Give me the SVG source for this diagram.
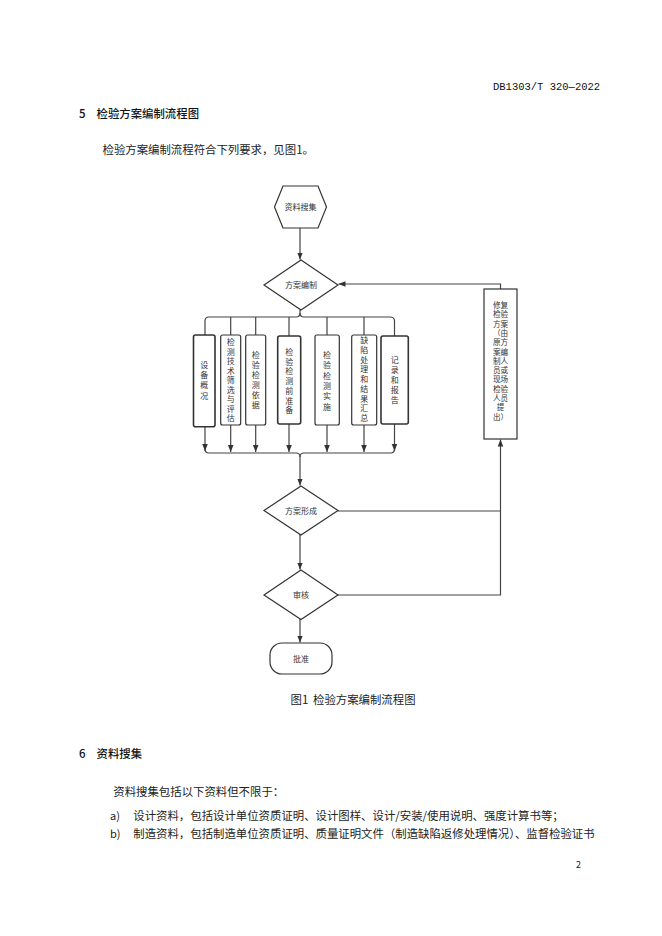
<svg xmlns="http://www.w3.org/2000/svg" width="662" height="936" viewBox="0 0 662 936">
<defs>
<style>
.doc{font-family:"Noto Sans CJK SC","Liberation Serif",serif;fill:#222;}
.hd{font-family:"Noto Sans CJK SC","Liberation Sans",sans-serif;fill:#111;font-weight:500;}
.mono{font-family:"Liberation Mono","DejaVu Sans Mono",monospace;fill:#111;}
.lbl{font-family:"Noto Sans CJK SC",sans-serif;font-size:8px;fill:#333;text-anchor:middle;}
.sm{font-size:7.6px;}
.shape{fill:#fff;stroke:#333;stroke-width:1.2;}
.thick{stroke-width:1.6;}
.conn{fill:none;stroke:#444;stroke-width:1.2;}
</style>
<marker id="arr" viewBox="0 0 10 10" refX="10" refY="5" markerWidth="7" markerHeight="7" orient="auto" markerUnits="userSpaceOnUse">
<path d="M0,1 L10,5 L0,9 Z" fill="#333"/>
</marker>
</defs>
<rect width="662" height="936" fill="#fff"/>

<text class="mono" x="493" y="89.5" font-size="10.5">DB1303/T 320—2022</text>
<text class="hd" x="79" y="117.5" font-size="11.4">5</text>
<text class="hd" x="96.5" y="117.5" font-size="11.4">检验方案编制流程图</text>
<text class="doc" x="102.5" y="154" font-size="11.4">检验方案编制流程符合下列要求，见图1。</text>

<g id="connectors">
<path class="conn" d="M300,228 L300,259.5" marker-end="url(#arr)"/>
<path class="conn" d="M300,310 L300,313 Q300,317 296,317 L209,317 Q205,317 205,321 L205,335"/>
<path class="conn" d="M300,313 Q300,317 304,317 L390,317 Q394.5,317 394.5,321 L394.5,336"/>
<path class="conn" d="M230.7,317 L230.7,335 M255.7,317 L255.7,335 M289,317 L289,336 M327,317 L327,335 M364,317 L364,335"/>
<path class="conn" d="M205,426.7 L205,451" marker-end="url(#arr)"/>
<path class="conn" d="M230.7,425 L230.7,452" marker-end="url(#arr)"/>
<path class="conn" d="M255.7,425 L255.7,452" marker-end="url(#arr)"/>
<path class="conn" d="M289,424 L289,452" marker-end="url(#arr)"/>
<path class="conn" d="M327,425 L327,452" marker-end="url(#arr)"/>
<path class="conn" d="M364,425 L364,452" marker-end="url(#arr)"/>
<path class="conn" d="M394.5,424 L394.5,451" marker-end="url(#arr)"/>
<path class="conn" d="M205,449 Q205,453 209,453 L296,453 Q300,453 300,457"/>
<path class="conn" d="M394.5,449 Q394.5,453 390.5,453 L304,453 Q300,453 300,457"/>
<path class="conn" d="M300,457 L300,485.5" marker-end="url(#arr)"/>
<path class="conn" d="M300,534 L300,569.5" marker-end="url(#arr)"/>
<path class="conn" d="M300,619 L300,642.5" marker-end="url(#arr)"/>
<path class="conn" d="M338,511 L500.5,511"/>
<path class="conn" d="M338,595 L500.5,595 L500.5,439.5" marker-end="url(#arr)"/>
<path class="conn" d="M500.5,289 L500.5,284 L338.5,284" marker-end="url(#arr)"/>
</g>

<g id="n_ziliao">
<polygon class="shape" points="274.5,207 283,186 318,186 326.5,207 318,228 283,228"/>
<text class="lbl" x="300.5" y="210">资料搜集</text>
</g>
<g id="n_bianzhi">
<polygon class="shape" points="301,260 338,285 301,310 264,285"/>
<text class="lbl" x="301" y="288">方案编制</text>
</g>

<g id="n_b1">
<rect class="shape thick" x="193.5" y="335" width="21.5" height="91.7" rx="2"/>
<text class="lbl"><tspan x="204.3" y="368">设</tspan><tspan x="204.3" dy="10.2">备</tspan><tspan x="204.3" dy="10.2">概</tspan><tspan x="204.3" dy="10.2">况</tspan></text>
</g>
<g id="n_b2">
<rect class="shape" x="220.7" y="335" width="20" height="90" rx="2"/>
<text class="lbl"><tspan x="230.7" y="345">检</tspan><tspan x="230.7" dy="9.5">测</tspan><tspan x="230.7" dy="9.5">技</tspan><tspan x="230.7" dy="9.5">术</tspan><tspan x="230.7" dy="9.5">筛</tspan><tspan x="230.7" dy="9.5">选</tspan><tspan x="230.7" dy="9.5">与</tspan><tspan x="230.7" dy="9.5">评</tspan><tspan x="230.7" dy="9.5">估</tspan></text>
</g>
<g id="n_b3">
<rect class="shape" x="245.7" y="335" width="20" height="90" rx="2"/>
<text class="lbl"><tspan x="255.7" y="358">检</tspan><tspan x="255.7" dy="10">验</tspan><tspan x="255.7" dy="10">检</tspan><tspan x="255.7" dy="10">测</tspan><tspan x="255.7" dy="10">依</tspan><tspan x="255.7" dy="10">据</tspan></text>
</g>
<g id="n_b4">
<rect class="shape thick" x="277.7" y="336" width="23" height="88" rx="2"/>
<text class="lbl"><tspan x="289.2" y="355">检</tspan><tspan x="289.2" dy="9.7">验</tspan><tspan x="289.2" dy="9.7">检</tspan><tspan x="289.2" dy="9.7">测</tspan><tspan x="289.2" dy="9.7">前</tspan><tspan x="289.2" dy="9.7">准</tspan><tspan x="289.2" dy="9.7">备</tspan></text>
</g>
<g id="n_b5">
<rect class="shape" x="315" y="335" width="24.3" height="90" rx="2"/>
<text class="lbl"><tspan x="327.1" y="358">检</tspan><tspan x="327.1" dy="10.3">验</tspan><tspan x="327.1" dy="10.3">检</tspan><tspan x="327.1" dy="10.3">测</tspan><tspan x="327.1" dy="10.3">实</tspan><tspan x="327.1" dy="10.3">施</tspan></text>
</g>
<g id="n_b6">
<rect class="shape" x="351.7" y="335" width="25" height="90" rx="2"/>
<text class="lbl"><tspan x="364.2" y="343">缺</tspan><tspan x="364.2" dy="9.75">陷</tspan><tspan x="364.2" dy="9.75">处</tspan><tspan x="364.2" dy="9.75">理</tspan><tspan x="364.2" dy="9.75">和</tspan><tspan x="364.2" dy="9.75">结</tspan><tspan x="364.2" dy="9.75">果</tspan><tspan x="364.2" dy="9.75">汇</tspan><tspan x="364.2" dy="9.75">总</tspan></text>
</g>
<g id="n_b7">
<rect class="shape thick" x="381" y="336" width="27.3" height="88" rx="2"/>
<text class="lbl"><tspan x="394.7" y="363">记</tspan><tspan x="394.7" dy="10">录</tspan><tspan x="394.7" dy="10">和</tspan><tspan x="394.7" dy="10">报</tspan><tspan x="394.7" dy="10">告</tspan></text>
</g>

<g id="n_xiufu">
<rect class="shape" x="484" y="289" width="33" height="150"/>
<text class="lbl sm" x="500.5" y="308">修复</text>
<text class="lbl sm" x="500.5" y="317.3">检验</text>
<text class="lbl sm" x="500.5" y="326.6">方案</text>
<text class="lbl sm" x="500.5" y="335.9">（由</text>
<text class="lbl sm" x="500.5" y="345.2">原方</text>
<text class="lbl sm" x="500.5" y="354.5">案编</text>
<text class="lbl sm" x="500.5" y="363.8">制人</text>
<text class="lbl sm" x="500.5" y="373.1">员或</text>
<text class="lbl sm" x="500.5" y="382.4">现场</text>
<text class="lbl sm" x="500.5" y="391.7">检验</text>
<text class="lbl sm" x="500.5" y="401">人员</text>
<text class="lbl sm" x="500.5" y="410.3">提</text>
<text class="lbl sm" x="500.5" y="419.6">出）</text>
</g>

<g id="n_xingcheng">
<polygon class="shape" points="301,486 338,510.5 301,535 264,510.5"/>
<text class="lbl" x="301" y="513.5">方案形成</text>
</g>
<g id="n_shenhe">
<polygon class="shape" points="301,570 338,595 301,619.5 264,595"/>
<text class="lbl" x="301" y="598">审核</text>
</g>
<g id="n_pizhun">
<rect class="shape" x="270" y="643" width="62" height="31" rx="12"/>
<text class="lbl" x="301" y="661.5">批准</text>
</g>

<text class="doc" x="290.5" y="704" font-size="11.4">图1</text>
<text class="doc" x="313" y="704" font-size="11.4">检验方案编制流程图</text>

<text class="hd" x="79" y="757.5" font-size="11.4">6</text>
<text class="hd" x="96.5" y="757.5" font-size="11.4">资料搜集</text>
<text class="doc" x="113.3" y="796" font-size="11.4">资料搜集包括以下资料但不限于：</text>
<text class="doc" x="110" y="820" font-size="11">a)</text>
<text class="doc" x="133.3" y="820" font-size="11.4">设计资料，包括设计单位资质证明、设计图样、设计/安装/使用说明、强度计算书等；</text>
<text class="doc" x="110" y="838" font-size="11">b)</text>
<text class="doc" x="133.3" y="838" font-size="11.4">制造资料，包括制造单位资质证明、质量证明文件（制造缺陷返修处理情况）、监督检验证书</text>
<text class="doc" x="576" y="868" font-size="9">2</text>
</svg>
